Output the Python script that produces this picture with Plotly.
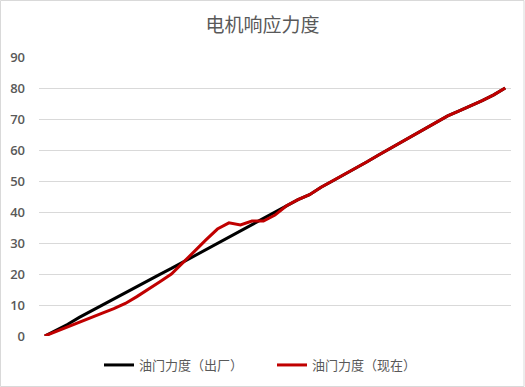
import plotly.graph_objects as go

# Data
categories = [str(i) for i in range(1, 42)]
factory = [0, 1.8, 3.8, 6.0, 8.0, 10.0, 12.1, 14.1, 16.1, 18.0, 19.9,
           21.8, 23.8, 25.8, 27.9, 30.0, 32.0, 34.0, 36.0, 38.0, 40.0,
           42.0, 44.0, 45.6, 48.0, 50.0, 52.0, 54.0, 56.2, 58.4, 60.5,
           62.5, 64.6, 66.7, 68.8, 71.0, 72.6, 74.2, 75.9, 77.8, 80.0]
current = [0, 1.5, 3.0, 4.6, 6.0, 7.4, 8.8, 10.5, 12.7, 15.0, 17.5,
           20.0, 23.5, 27.3, 31.0, 34.5, 36.5, 35.8, 37.1, 37.1, 39.0,
           42.0, 44.0, 45.6, 48.0, 50.0, 52.0, 54.0, 56.2, 58.4, 60.5,
           62.5, 64.6, 66.7, 68.8, 71.0, 72.6, 74.2, 75.9, 77.8, 80.0]
series_names = ["油门力度（出厂）", "油门力度（现在）"]
y_ticks = [0, 10, 20, 30, 40, 50, 60, 70, 80, 90]
title_text = "电机响应力度"

W, H = 525, 387
ML, MR, MT, MB = 39, 14, 57, 51
pw = W - ML - MR
ph = H - MT - MB

fig = go.Figure()
fig.add_trace(go.Scatter(x=categories, y=factory, mode="lines", name=series_names[0],
                         line=dict(color="#000000", width=3)))
fig.add_trace(go.Scatter(x=categories, y=current, mode="lines", name=series_names[1],
                         line=dict(color="#C00000", width=3)))

fig.update_layout(
    width=W, height=H,
    margin=dict(l=ML, r=MR, t=MT, b=MB, autoexpand=False),
    paper_bgcolor="white", plot_bgcolor="white",
    title=dict(text=title_text, x=0.5, xanchor="center", y=1 - 25 / H, yanchor="middle",
               font=dict(family="Noto Sans CJK SC", size=19, color="#595959")),
    font=dict(family="Noto Sans CJK SC", color="#595959"),
    xaxis=dict(type="category", showticklabels=False, showgrid=False, zeroline=False,
               showline=False, ticks="", range=[-0.5, len(categories) - 0.5]),
    yaxis=dict(range=[0, 90], tickvals=y_ticks, showgrid=True, gridcolor="#D9D9D9",
               gridwidth=1, zeroline=False, showline=False, ticks="",
               tickfont=dict(family="Open Sans", size=13, color="#595959", weight=600),
               ticklabelstandoff=13),
    showlegend=True,
    legend=dict(orientation="h", x=(99 - ML) / pw, xanchor="left",
                yref="container", y=1 - 365 / H, yanchor="middle",
                font=dict(family="Noto Sans CJK SC", size=13, color="#595959"),
                entrywidth=128, entrywidthmode="pixels",
                bgcolor="rgba(0,0,0,0)"),
    shapes=[dict(type="rect", xref="paper", yref="paper",
                 x0=(0.5 - ML) / pw, x1=(W - 1 - ML) / pw,
                 y0=(H - MB - (H - 0.5)) / ph, y1=(H - MB - 0.5) / ph,
                 line=dict(color="#D9D9D9", width=1), layer="below")],
)

fig.write_html("out.html")
